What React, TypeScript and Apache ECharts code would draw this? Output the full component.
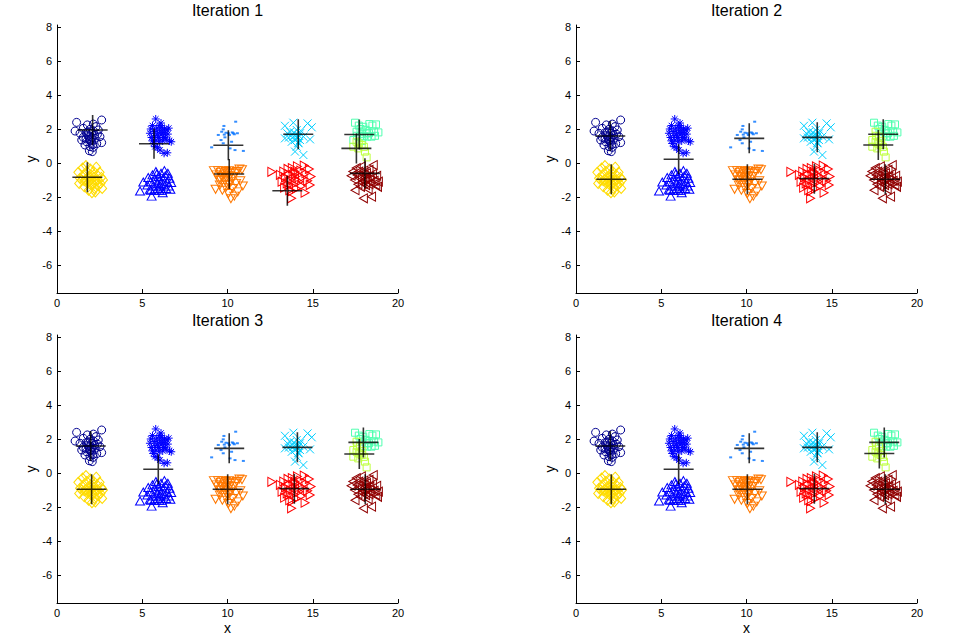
import React, { useEffect, useRef } from "react";
import * as echarts from "echarts";

// ---- Data ----
const titles = ["Iteration 1", "Iteration 2", "Iteration 3", "Iteration 4"];
const xTicks = [0, 5, 10, 15, 20];
const yTicks = [-6, -4, -2, 0, 2, 4, 6, 8];

const circlePts: number[][] = [
  [1.15, 2.39], [2.62, 2.53], [1.06, 1.88], [2.13, 2.29], [1.78, 2.24], [2.29, 2.14], [1.54, 2.04],
  [1.94, 1.98], [2.42, 1.94], [1.35, 1.75], [1.7, 1.78], [2.03, 1.75], [2.37, 1.69], [1.54, 1.51],
  [1.9, 1.55], [2.23, 1.45], [2.62, 1.2], [1.45, 1.35], [1.74, 1.25], [2.03, 1.22], [2.33, 1.14],
  [1.64, 1.06], [1.94, 0.96], [2.13, 0.92], [1.9, 0.72], [2.07, 0.67], [1.84, 1.84], [2.13, 1.9],
  [1.97, 1.39], [2.52, 1.55], [1.85, 1.62], [2.05, 1.48], [1.95, 1.3], [2.2, 1.65], [1.7, 1.42], [2.1, 1.08],
];
const diamondPts: number[][] = [
  [1.25, -0.55], [1.35, -0.9], [1.3, -1.2], [1.5, -0.3], [1.55, -0.7], [1.6, -1.05], [1.6, -1.4],
  [1.7, -0.15], [1.75, -0.5], [1.8, -0.85], [1.8, -1.2], [1.85, -1.6], [1.95, -0.35], [2.0, -0.7],
  [2.0, -1.0], [2.0, -1.3], [2.05, -1.75], [2.15, -0.5], [2.15, -0.85], [2.2, -1.15], [2.2, -1.5],
  [2.3, -0.25], [2.35, -0.7], [2.4, -1.0], [2.4, -1.35], [2.5, -0.55], [2.55, -1.2], [2.6, -0.85],
  [2.7, -1.0], [2.65, -1.5], [1.9, -1.05], [2.1, -1.2], [1.7, -1.0], [2.3, -1.05], [1.45, -1.0], [2.25, -1.7],
];
const asteriskPts: number[][] = [
  [5.79, 2.59], [5.5, 2.0], [5.45, 1.75], [5.55, 1.5], [5.6, 2.2], [5.7, 1.85], [5.75, 1.6], [5.8, 1.35],
  [5.85, 2.05], [5.9, 1.75], [5.95, 1.5], [6.0, 2.2], [6.05, 1.9], [6.1, 1.65], [6.15, 2.1], [6.2, 1.8],
  [6.25, 1.5], [6.3, 2.0], [6.35, 1.7], [6.4, 1.4], [6.45, 1.95], [6.5, 1.7], [6.6, 1.3], [6.7, 1.25],
  [6.0, 1.25], [5.65, 1.15], [5.75, 0.96], [6.04, 0.76], [6.28, 0.57], [6.47, 0.6], [5.9, 0.9],
  [6.2, 1.3], [5.6, 1.3], [6.55, 2.05], [6.1, 2.35],
];
const triUpPts: number[][] = [
  [4.87, -1.65], [5.55, -1.95], [5.06, -1.12], [5.3, -1.3], [5.35, -0.85], [5.45, -1.55], [5.5, -1.1],
  [5.6, -0.7], [5.65, -1.35], [5.7, -1.6], [5.75, -0.95], [5.8, -0.5], [5.85, -1.2], [5.9, -1.5],
  [5.95, -0.8], [6.0, -1.05], [6.05, -1.35], [6.1, -0.6], [6.15, -1.6], [6.2, -0.95], [6.25, -1.25],
  [6.3, -0.45], [6.35, -0.75], [6.4, -1.5], [6.45, -1.1], [6.5, -0.6], [6.55, -1.35], [6.6, -0.9],
  [6.65, -1.55], [6.7, -1.15], [6.0, -1.6], [5.85, -0.65], [6.2, -1.75], [5.5, -1.6], [6.1, -1.2],
];
const dotPts: number[][] = [
  [9.79, 2.18], [9.75, 1.98], [9.66, 1.84], [9.46, 1.65], [9.81, 1.67], [9.85, 1.51], [10.05, 1.75],
  [10.34, 1.75], [10.4, 1.69], [10.48, 2.43], [10.28, 1.8], [10.11, 1.65], [9.62, 1.35], [9.75, 1.16],
  [9.07, 0.92], [10.15, 0.86], [10.93, 0.71], [10.44, 0.76], [9.91, 1.78], [10.24, 1.25], [10.58, 1.75],
];
const triDownPts: number[][] = [
  [9.2, -0.45], [9.35, -0.7], [9.3, -1.55], [9.45, -0.45], [9.5, -1.0], [9.55, -1.3], [9.6, -0.55],
  [9.65, -0.8], [9.7, -1.6], [9.75, -0.45], [9.8, -0.7], [9.85, -1.05], [9.9, -0.5], [9.95, -0.85],
  [10.0, -1.3], [10.0, -0.6], [10.05, -1.8], [10.1, -0.45], [10.15, -0.75], [10.2, -1.1], [10.25, -0.55],
  [10.3, -1.5], [10.35, -0.8], [10.4, -1.95], [10.45, -0.6], [10.5, -1.2], [10.55, -0.5], [10.6, -1.7],
  [10.7, -0.35], [10.75, -1.05], [10.85, -0.4], [10.9, -1.35], [10.2, -2.1], [9.9, -1.45], [10.1, -1.25], [9.6, -1.0],
];
const crossPts: number[][] = [
  [13.37, 2.19], [13.86, 2.37], [14.7, 2.33], [14.94, 2.1], [13.37, 1.45], [14.25, 1.35], [14.84, 1.39],
  [13.96, 0.67], [14.45, 0.47], [14.06, 0.96], [13.67, 1.84], [14.06, 1.94], [13.86, 1.55], [14.25, 1.75],
  [14.45, 1.55], [13.77, 1.25], [14.16, 1.16], [13.51, 1.75], [14.0, 1.65], [14.1, 1.45], [13.9, 1.8],
  [14.2, 1.6], [14.15, 1.2], [13.95, 1.35], [14.3, 1.9], [13.6, 1.5],
];
const triRightPts: number[][] = [
  [12.6, -0.52], [13.1, -0.7], [13.2, -1.1], [13.3, -0.5], [13.35, -1.45], [13.4, -0.85], [13.5, -1.2],
  [13.55, -0.35], [13.6, -0.65], [13.65, -1.6], [13.7, -1.0], [13.76, -2.08], [13.8, -0.3], [13.85, -0.75],
  [13.9, -1.25], [13.95, -0.5], [14.0, -0.95], [14.05, -1.5], [14.1, -0.2], [14.15, -0.7], [14.2, -1.1],
  [14.3, -0.45], [14.35, -1.35], [14.4, -0.85], [14.5, -0.15], [14.55, -1.75], [14.6, -0.6], [14.7, -1.05],
  [14.8, -0.35], [14.85, -1.3], [14.9, -0.8], [13.6, -1.3], [13.8, -1.65], [14.0, -0.6],
];
const squareUpperPts: number[][] = [
  [17.48, 2.37], [17.7, 2.2], [17.96, 2.13], [18.1, 1.95], [18.32, 2.29], [18.5, 2.2], [18.71, 2.27],
  [18.85, 1.8], [18.6, 1.85], [18.3, 1.75], [18.16, 1.75], [18.45, 1.55], [17.9, 1.85], [18.0, 1.6],
  [18.2, 1.55], [17.8, 2.0], [18.65, 1.6],
];
const squareMiddlePts: number[][] = [
  [17.57, 1.84], [17.77, 1.55], [17.38, 1.35], [17.6, 1.6], [17.9, 1.3],
];
const squareLowerPts: number[][] = [
  [17.38, 0.96], [17.57, 1.25], [17.87, 1.06], [18.06, 0.67], [18.16, 0.33], [17.67, 0.86], [17.7, 1.15], [18.0, 0.95],
];
const triLeftPts: number[][] = [
  [17.25, -0.75], [17.35, -0.5], [17.45, -1.0], [17.48, -1.6], [17.55, -0.3], [17.6, -0.7], [17.65, -1.25],
  [17.7, -0.5], [17.75, -0.9], [17.8, -1.4], [17.85, -0.2], [17.9, -0.65], [17.95, -1.05], [17.97, -2.08],
  [18.0, -0.45], [18.05, -0.85], [18.1, -1.3], [18.15, -0.6], [18.2, -1.0], [18.25, -1.55], [18.3, -0.4],
  [18.35, -0.8], [18.4, -1.15], [18.45, -1.98], [18.5, -0.65], [18.55, -0.12], [18.6, -1.05], [18.7, -1.3],
  [18.75, -0.75], [18.85, -1.1], [18.1, -0.95], [17.9, -1.15], [18.3, -1.25], [18.8, -1.4],
];

const centroidsIter1: number[][] = [
  [2.09, 1.94], [5.69, 1.13], [10.05, 1.04], [14.15, 1.69], [17.73, 1.68],
  [17.56, 0.86], [1.78, -0.84], [10.1, -0.65], [13.51, -1.63], [18.06, -0.61],
];
const centroidsIter2: number[][] = [
  [2.01, 1.59], [6.02, 0.22], [10.16, 1.45], [14.15, 1.51], [18.02, 1.69],
  [17.73, 1.06], [2.07, -0.96], [10.05, -0.96], [13.98, -0.92], [18.14, -0.96],
];
const centroidsIter3: number[][] = [
  [1.98, 1.59], [5.94, 0.22], [10.1, 1.45], [14.1, 1.51], [17.97, 1.8],
  [17.73, 1.12], [2.03, -0.96], [10.01, -0.96], [13.92, -0.92], [18.08, -0.96],
];
const centroidsIter4: number[][] = [
  [2.01, 1.59], [6.02, 0.22], [10.16, 1.45], [14.15, 1.51], [18.08, 1.8],
  [17.79, 1.15], [2.07, -0.96], [10.05, -0.96], [13.98, -0.92], [18.14, -0.96],
];
const centroids = [centroidsIter1, centroidsIter2, centroidsIter3, centroidsIter4];
// colour of the middle squares per iteration
const squareMiddleColorKey = ["aqua", "yg", "yg", "yg"];

// ---- styling ----
const COLORS: Record<string, string> = {
  navy: "#000090",
  blue: "#0000FF",
  dodger: "#0070FF",
  cyan: "#00CFFF",
  aqua: "#50FFB0",
  yg: "#BFFF40",
  yellow: "#FFDC00",
  orange: "#FF7800",
  red: "#FF0000",
  darkred: "#900000",
};
const FONT = "'Liberation Sans', Arial, sans-serif";
const ASTERISK = "path://M4,0 L4,8 M0,4 L8,4 M1.2,1.2 L6.8,6.8 M1.2,6.8 L6.8,1.2";
const XMARK = "path://M0,0 L8,8 M0,8 L8,0";
const PLUS = "path://M0,15 L30,15 M15,0 L15,30";

const GRIDS = [
  { left: 57, top: 25 },
  { left: 576, top: 25 },
  { left: 57, top: 335 },
  { left: 576, top: 335 },
];
const GW = 341;
const GH = 268;

function hollow(
  i: number,
  data: number[][],
  symbol: string,
  size: number | number[],
  color: string,
  rotate = 0
) {
  return {
    type: "scatter",
    xAxisIndex: i,
    yAxisIndex: i,
    data,
    symbol,
    symbolSize: size,
    symbolRotate: rotate,
    silent: true,
    itemStyle: { color: "rgba(0,0,0,0)", borderColor: color, borderWidth: 1, opacity: 1 },
    emphasis: { disabled: true },
  };
}

export default function App() {
  const ref = useRef<HTMLDivElement>(null);
  useEffect(() => {
    if (!ref.current) return;
    const chart = echarts.init(ref.current, undefined, { renderer: "svg" });
    const grid: any[] = [];
    const xAxis: any[] = [];
    const yAxis: any[] = [];
    const series: any[] = [];
    const title: any[] = [];
    for (let i = 0; i < 4; i++) {
      const g = GRIDS[i];
      grid.push({ left: g.left, top: g.top, width: GW, height: GH, containLabel: false });
      title.push({
        text: titles[i],
        left: g.left + GW / 2,
        top: g.top - 23,
        textAlign: "center",
        padding: 0,
        textStyle: { fontSize: 16, fontWeight: "normal", color: "#000", fontFamily: FONT },
      });
      xAxis.push({
        type: "value",
        gridIndex: i,
        min: 0,
        max: 20,
        interval: 5,
        name: i >= 2 ? "x" : "",
        nameLocation: "middle",
        nameGap: 18,
        nameTextStyle: { fontSize: 14, color: "#000", fontFamily: FONT },
        axisLine: { show: true, onZero: false, lineStyle: { color: "#000", width: 1 } },
        axisTick: { show: true, inside: true, length: 4, lineStyle: { color: "#000" } },
        axisLabel: {
          color: "#000",
          fontSize: 11,
          fontFamily: FONT,
          margin: 4,
          customValues: xTicks,
        },
        splitLine: { show: false },
      });
      yAxis.push({
        type: "value",
        gridIndex: i,
        min: -7.65,
        max: 8.12,
        name: "y",
        nameLocation: "middle",
        nameGap: 17,
        nameRotate: 90,
        nameTextStyle: { fontSize: 14, color: "#000", fontFamily: FONT },
        axisLine: { show: true, onZero: false, lineStyle: { color: "#000", width: 1 } },
        axisTick: { show: true, inside: true, length: 4, lineStyle: { color: "#000" }, customValues: yTicks },
        axisLabel: { color: "#000", fontSize: 11, fontFamily: FONT, margin: 5, customValues: yTicks },
        splitLine: { show: false },
      });
      series.push(hollow(i, circlePts, "circle", 8, COLORS.navy));
      series.push(hollow(i, diamondPts, "diamond", [9, 10], COLORS.yellow));
      series.push(hollow(i, asteriskPts, ASTERISK, 8, COLORS.blue));
      series.push(hollow(i, triUpPts, "triangle", [9, 8], COLORS.blue));
      series.push({
        type: "scatter",
        xAxisIndex: i,
        yAxisIndex: i,
        data: dotPts,
        symbol: "rect",
        symbolSize: [3, 2],
        silent: true,
        itemStyle: { color: COLORS.dodger },
      });
      series.push(hollow(i, triDownPts, "triangle", [9, 8], COLORS.orange, 180));
      series.push(hollow(i, crossPts, XMARK, 8, COLORS.cyan));
      series.push(hollow(i, triRightPts, "triangle", [9, 8], COLORS.red, -90));
      series.push(hollow(i, squareUpperPts, "rect", 7, COLORS.aqua));
      series.push(hollow(i, squareMiddlePts, "rect", 7, COLORS[squareMiddleColorKey[i]]));
      series.push(hollow(i, squareLowerPts, "rect", 7, COLORS.yg));
      series.push(hollow(i, triLeftPts, "triangle", [9, 8], COLORS.darkred, 90));
      series.push({
        type: "scatter",
        xAxisIndex: i,
        yAxisIndex: i,
        data: centroids[i],
        symbol: PLUS,
        symbolSize: 30,
        silent: true,
        z: 5,
        itemStyle: { color: "rgba(0,0,0,0)", borderColor: "#000", borderWidth: 1.6 },
      });
    }
    chart.setOption({
      animation: false,
      backgroundColor: "#fff",
      title,
      grid,
      xAxis,
      yAxis,
      series,
    });
    return () => chart.dispose();
  }, []);
  return (
    <div
      ref={ref}
      style={{ position: "absolute", left: 0, top: 0, width: 961, height: 641 }}
    />
  );
}
